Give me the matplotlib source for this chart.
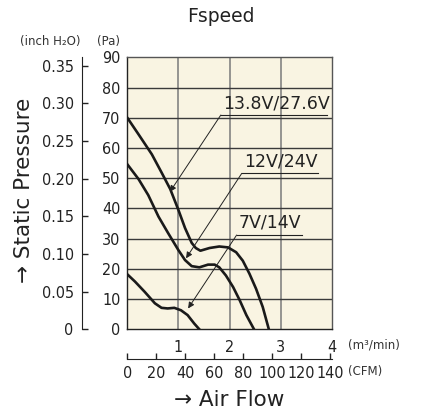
import matplotlib
matplotlib.use("Agg")
import matplotlib.pyplot as plt
from matplotlib.ticker import FixedLocator, FixedFormatter

plt.rcParams['font.family'] = ['DejaVu Sans']
plt.rcParams['font.stretch'] = 'condensed'

# ── data (flow m3/min, pressure Pa) ──
flow_138 = [0, 0.22, 0.48, 0.67, 0.84, 1.0, 1.13, 1.26, 1.34, 1.43, 1.61, 1.80, 1.97, 2.13, 2.26, 2.39, 2.52, 2.65, 2.77]
pres_138 = [70, 64.5, 57.9, 51.9, 46.4, 39.5, 33.5, 28.6, 26.9, 26.0, 26.9, 27.4, 27.1, 25.5, 22.7, 18.4, 13.4, 7.4, 0]

flow_12 = [0, 0.22, 0.41, 0.61, 0.80, 1.0, 1.13, 1.26, 1.41, 1.58, 1.71, 1.80, 1.93, 2.07, 2.20, 2.33, 2.48]
pres_12 = [54.6, 49.7, 44.4, 37.3, 31.8, 26.2, 22.9, 20.9, 20.5, 21.4, 21.4, 20.5, 17.8, 14.0, 9.6, 4.7, 0]

flow_7 = [0, 0.15, 0.34, 0.54, 0.67, 0.79, 0.92, 1.05, 1.18, 1.31, 1.41]
pres_7 = [18.2, 15.8, 12.4, 8.6, 7.1, 6.9, 7.1, 6.3, 4.7, 1.9, 0]

labels = ["13.8V/27.6V", "12V/24V", "7V/14V"]
label_pos = [(1.83, 70.9), (2.24, 51.6), (2.14, 31.2)]   # start of underline
label_end = [3.90, 3.74, 3.41]
arrow_tip = [(0.835, 45.5), (1.15, 23.5), (1.19, 6.9)]

pa_ticks = [0, 10, 20, 30, 40, 50, 60, 70, 80, 90]
inch_ticks = [0, 0.05, 0.10, 0.15, 0.20, 0.25, 0.30, 0.35]
m3_ticks = [1, 2, 3, 4]
cfm_ticks = [0, 20, 40, 60, 80, 100, 120, 140]

W, H = 421, 417
fig = plt.figure(figsize=(W / 100, H / 100), dpi=100)
TS = 11.5  # tick label size

x0, x1 = 127.3, 331.7
y0, y1 = 329.3, 57.3
ax = fig.add_axes([x0 / W, (H - y0) / H, (x1 - x0) / W, (y0 - y1) / H])
ax.set_facecolor('#f9f4e2')
ax.set_xlim(0, 4)
ax.set_ylim(0, 90)

for v in [1, 2, 3]:
    ax.axvline(v, color='#7a7a7a', lw=1.1, zorder=1)
for v in pa_ticks[1:-1]:
    ax.axhline(v, color='#3a3a3a', lw=1.0, zorder=1)
for s in ax.spines.values():
    s.set_color('#555555')
    s.set_linewidth(1.0)
ax.spines['left'].set_color('#222222')
ax.spines['bottom'].set_color('#222222')

for f, p in [(flow_138, pres_138), (flow_12, pres_12), (flow_7, pres_7)]:
    ax.plot(f, p, color='#1a1a1a', lw=1.9, solid_joinstyle='round', zorder=3)

for lab, (lx, ly), le, tip in zip(labels, label_pos, label_end, arrow_tip):
    ax.plot([lx, le], [ly, ly], color='#222222', lw=0.8, zorder=4)
    ax.annotate('', xy=tip, xytext=(lx, ly),
                arrowprops=dict(arrowstyle='-|>', color='#222222', lw=0.7,
                                mutation_scale=9, shrinkA=0, shrinkB=0), zorder=4)
    ax.text(lx + 0.04, ly + 1.0, lab, fontsize=12.5, color='#222222', stretch='normal',
            ha='left', va='bottom', zorder=4)

ax.set_yticks(pa_ticks)
ax.set_yticklabels([str(t) for t in pa_ticks])
ax.set_xticks(m3_ticks)
ax.set_xticklabels([str(t) for t in m3_ticks])
ax.tick_params(axis='y', length=0, pad=5, labelsize=TS, labelcolor='#222222')
ax.tick_params(axis='x', length=0, pad=8, labelsize=TS, labelcolor='#222222')

# inch H2O axis
axi = fig.add_axes([82 / W, (H - y0) / H, 0.0001, (y0 - y1) / H])
axi.set_ylim(0, 90 / 249.09)
for k in ['top', 'right', 'bottom']:
    axi.spines[k].set_visible(False)
axi.spines['left'].set_color('#222222')
axi.set_xticks([])
axi.yaxis.set_major_locator(FixedLocator(inch_ticks))
axi.yaxis.set_major_formatter(FixedFormatter(['0'] + ['%.2f' % t for t in inch_ticks[1:]]))
axi.tick_params(axis='y', direction='in', length=4, width=1, pad=6, labelsize=TS,
                color='#222222', labelcolor='#222222')

# CFM axis
cfm_max = 4 * 35.3147
axc = fig.add_axes([x0 / W, (H - 359) / H, (x1 - x0) / W, 0.0001])
axc.set_xlim(0, cfm_max)
for k in ['top', 'right', 'left']:
    axc.spines[k].set_visible(False)
axc.spines['bottom'].set_color('#222222')
axc.set_yticks([])
axc.set_xticks(cfm_ticks)
axc.set_xticklabels([str(t) for t in cfm_ticks])
axc.tick_params(axis='x', direction='in', length=4, width=1, pad=5, labelsize=TS,
                color='#222222', labelcolor='#222222')

fig.text(221 / W, 1 - 17 / H, 'Fspeed', fontsize=13.5, ha='center', va='center',
         stretch='normal', color='#222222')
fig.text(50 / W, 1 - 41 / H, '(inch H\u2082O)', fontsize=8.5, ha='center', va='center',
         stretch='normal', color='#333333')
fig.text(108 / W, 1 - 41 / H, '(Pa)', fontsize=8.5, ha='center', va='center',
         stretch='normal', color='#333333')
fig.text(24 / W, 1 - 190 / H, '\u2192 Static Pressure', fontsize=15.5, rotation=90,
         ha='center', va='center', stretch='normal', color='#222222')
fig.text(348 / W, 1 - 345 / H, '(m\u00b3/min)', fontsize=8.5, ha='left', va='center',
         stretch='normal', color='#333333')
fig.text(348 / W, 1 - 372 / H, '(CFM)', fontsize=8.5, ha='left', va='center',
         stretch='normal', color='#333333')
fig.text(229 / W, 1 - 400 / H, '\u2192 Air Flow', fontsize=15.5, ha='center', va='center',
         stretch='normal', color='#222222')

fig.savefig('out.png', dpi=100, facecolor='white')
